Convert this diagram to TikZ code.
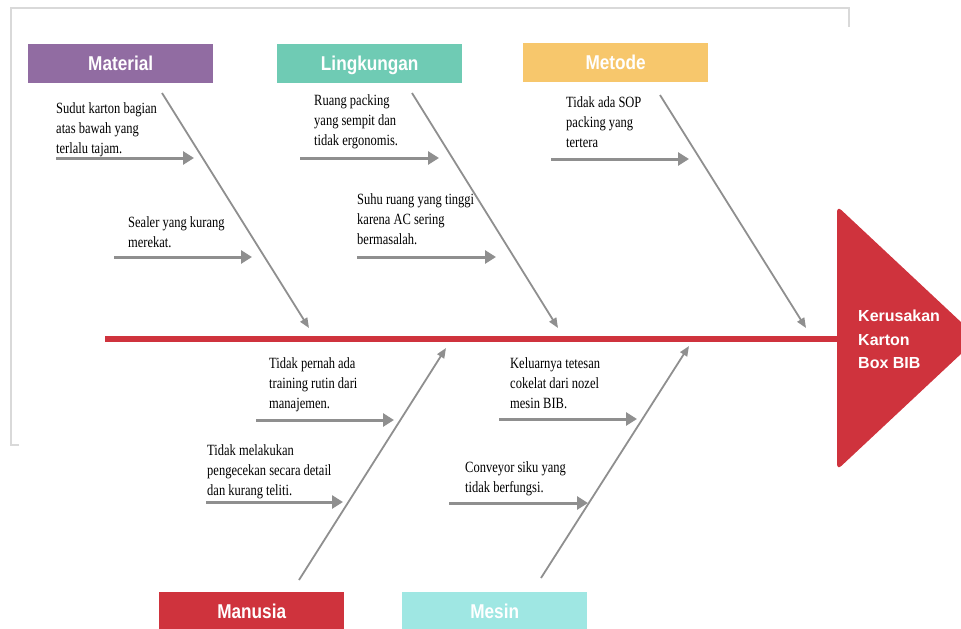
\documentclass[tikz,border=0pt]{standalone}
\usepackage{fontspec}
\setmainfont{Liberation Serif}
\newfontfamily\headfont{Liberation Sans}
\usetikzlibrary{arrows.meta}
\definecolor{cpurple}{HTML}{916CA2}
\definecolor{cteal}{HTML}{6FCBB4}
\definecolor{cyellow}{HTML}{F7C76C}
\definecolor{cred}{HTML}{CF333D}
\definecolor{ccyan}{HTML}{9FE7E3}
\definecolor{cgray}{HTML}{8F8F8F}
\definecolor{cframe}{HTML}{D9D9D9}
\newcommand{\bodytxt}[1]{\scalebox{1}[1.25]{\fontsize{12.5}{16.3}\selectfont\begin{tabular}[t]{@{}l@{}}#1\end{tabular}}}
\newcommand{\cattxt}[1]{\scalebox{0.86}[1]{\headfont\bfseries\fontsize{20}{24}\selectfont #1}}
\tikzset{
  catbox/.style={minimum width=185pt, minimum height=39pt, inner sep=0pt, text=white,
    text height=14.3pt, text depth=0pt, anchor=north west},
  bone/.style={draw=cgray, line width=1.8pt, -{Triangle[length=10pt,width=8pt]}},
  subarrow/.style={draw=cgray, line width=3pt, -{Triangle[length=11pt,width=13pt]}},
  cause/.style={anchor=base west, inner sep=0pt, text=black},
  framel/.style={draw=cframe, line width=2pt},
}
\begin{document}
\begin{tikzpicture}[x=1pt,y=-1pt]
\useasboundingbox (0,0) rectangle (961,629);
\clip (0,0) rectangle (961,629);
% frame
\draw[framel] (19,445) -- (11,445) -- (11,7.5) -- (849,7.5) -- (849,27);
% spine
\coordinate (spL) at (105,339);
% head
\fill[cred, rounded corners=6pt] (837,206) -- (978,338) -- (837,470) -- cycle;
\node[anchor=north west, inner sep=0pt, text=white, align=left,
      font=\headfont\bfseries\fontsize{16}{23.5}\selectfont] (head) at (858,310)
  {Kerusakan\\Karton\\Box BIB};
\coordinate (spR) at (838,339);
\draw[cred, line width=5.5pt] (spL) -- (spR);
% category boxes
\node[catbox, fill=cpurple] (mat) at (28,44) {\cattxt{Material}};
\node[catbox, fill=cteal] (lin) at (277,44) {\cattxt{Lingkungan}};
\node[catbox, fill=cyellow] (met) at (523,43) {\cattxt{Metode}};
\node[catbox, fill=cred] (man) at (159,592) {\cattxt{Manusia}};
\node[catbox, fill=ccyan] (mes) at (402,592) {\cattxt{Mesin}};
% bones
\coordinate (b1s) at (162,93);  \coordinate (b1e) at (309,328);
\coordinate (b2s) at (412,93);  \coordinate (b2e) at (558,328);
\coordinate (b3s) at (660,95);  \coordinate (b3e) at (806,328);
\coordinate (b4s) at (299,580); \coordinate (b4e) at (446,348);
\coordinate (b5s) at (541,578); \coordinate (b5e) at (689,346);
\draw[bone] (b1s) -- (b1e);
\draw[bone] (b2s) -- (b2e);
\draw[bone] (b3s) -- (b3e);
\draw[bone] (b4s) -- (b4e);
\draw[bone] (b5s) -- (b5e);
% causes
\node[cause] (c1) at (56,113) {\bodytxt{Sudut karton bagian\\atas bawah yang\\terlalu tajam.}};
\node[cause] (c2) at (128,227) {\bodytxt{Sealer yang kurang\\merekat.}};
\node[cause] (c3) at (314,105) {\bodytxt{Ruang packing\\yang sempit dan\\tidak ergonomis.}};
\node[cause] (c4) at (357,204) {\bodytxt{Suhu ruang yang tinggi\\karena AC sering\\bermasalah.}};
\node[cause] (c5) at (566,107) {\bodytxt{Tidak ada SOP\\packing yang\\tertera}};
\node[cause] (c6) at (269,368) {\bodytxt{Tidak pernah ada\\training rutin dari\\manajemen.}};
\node[cause] (c7) at (207,455) {\bodytxt{Tidak melakukan\\pengecekan secara detail\\dan kurang teliti.}};
\node[cause] (c8) at (510,368) {\bodytxt{Keluarnya tetesan\\cokelat dari nozel\\mesin BIB.}};
\node[cause] (c9) at (465,472) {\bodytxt{Conveyor siku yang\\tidak berfungsi.}};
% sub arrows
\coordinate (a1s) at (56,158);  \coordinate (a1e) at (194,158);
\coordinate (a2s) at (114,257); \coordinate (a2e) at (252,257);
\coordinate (a3s) at (300,158); \coordinate (a3e) at (439,158);
\coordinate (a4s) at (357,257); \coordinate (a4e) at (496,257);
\coordinate (a5s) at (551,159); \coordinate (a5e) at (689,159);
\coordinate (a6s) at (256,420); \coordinate (a6e) at (394,420);
\coordinate (a7s) at (206,502); \coordinate (a7e) at (343,502);
\coordinate (a8s) at (499,419); \coordinate (a8e) at (637,419);
\coordinate (a9s) at (449,503); \coordinate (a9e) at (588,503);
\foreach \i in {1,...,9}{\draw[subarrow] (a\i s) -- (a\i e);}
\end{tikzpicture}
\end{document}
